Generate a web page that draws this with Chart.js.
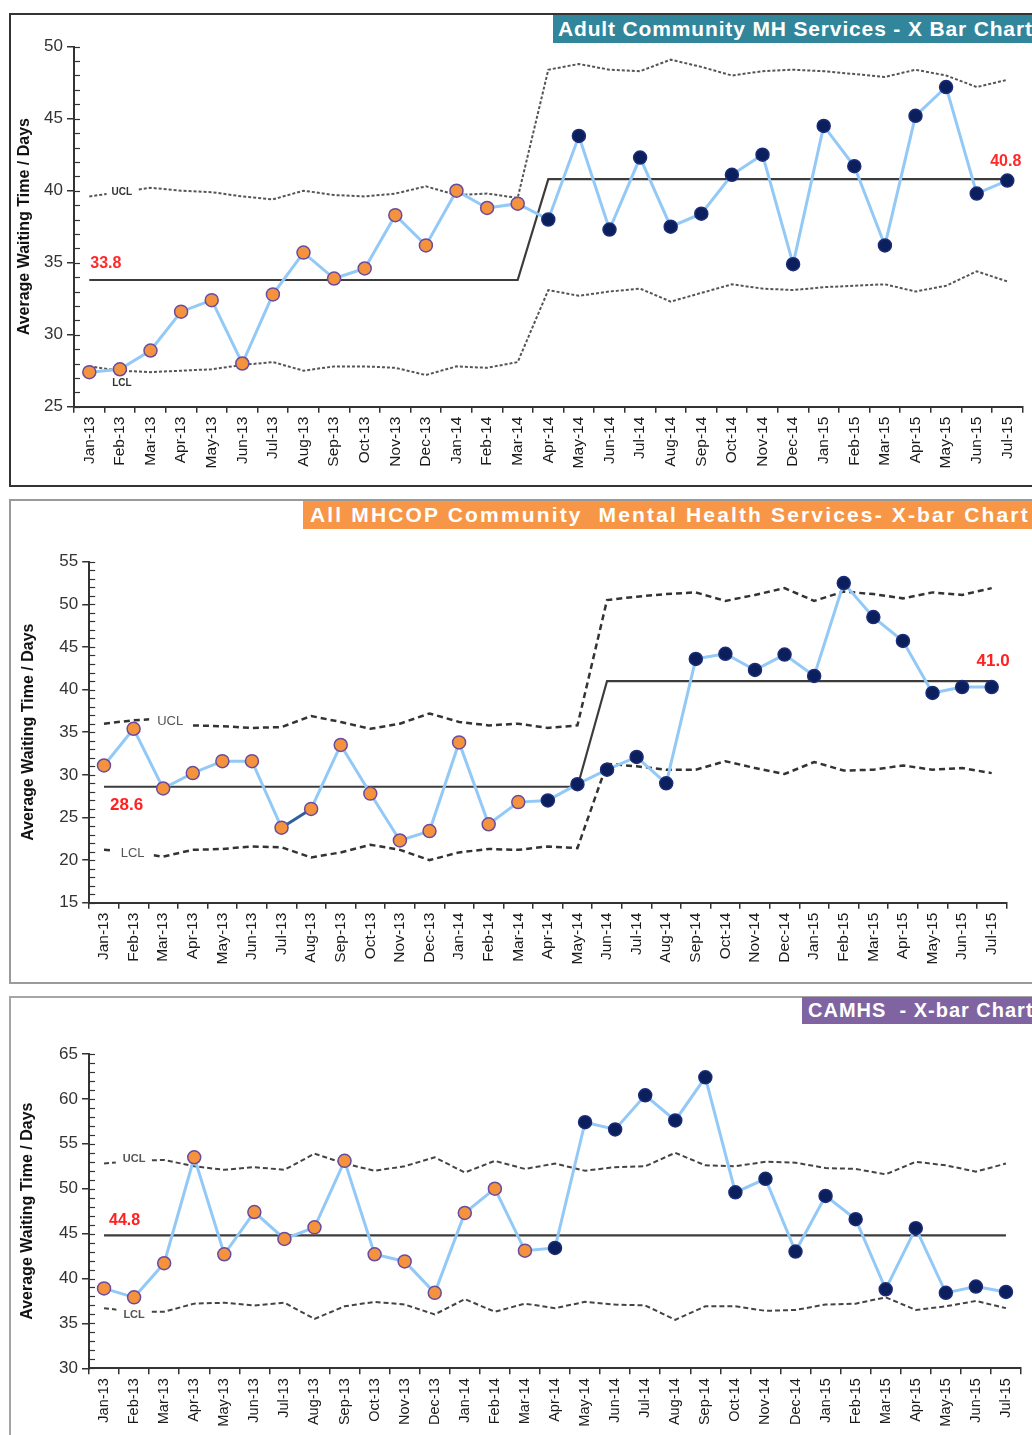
<!DOCTYPE html>
<html><head><meta charset="utf-8">
<script src="https://cdn.jsdelivr.net/npm/chart.js@4.4.1/dist/chart.umd.min.js"></script>
<style>
html,body{margin:0;padding:0;background:#fff;width:1032px;height:1435px;overflow:hidden;font-family:'Liberation Sans',Arial,sans-serif;}
.frame{position:absolute;box-sizing:border-box;}
.ttl{position:absolute;color:#fff;font-weight:bold;white-space:nowrap;overflow:hidden;box-sizing:border-box;font-family:'Liberation Sans',Arial,sans-serif;}
canvas{position:absolute;left:0;}
</style></head><body>
<div class="frame" style="left:9px;top:13px;width:1040px;height:474px;border:2px solid #333;"></div>
<div class="frame" style="left:9px;top:499px;width:1040px;height:485px;border:2px solid #9a9a9a;"></div>
<div class="frame" style="left:9px;top:996px;width:1040px;height:460px;border:2px solid #a5a5a5;"></div>

<canvas id="c1" width="1032" height="472" style="top:14px"></canvas>
<canvas id="c2" width="1032" height="482" style="top:500px"></canvas>
<canvas id="c3" width="1032" height="438" style="top:997px"></canvas>

<div class="ttl" style="left:553px;top:15px;width:479px;height:28px;line-height:28px;background:#31869b;font-size:21px;padding-left:5px;letter-spacing:0.85px;">Adult Community MH Services - X Bar Chart</div>
<div class="ttl" style="left:303px;top:501px;width:729px;height:28px;line-height:28px;background:#f79646;font-size:21px;padding-left:7px;letter-spacing:2.15px;">All MHCOP Community&nbsp; Mental Health Services- X-bar Chart</div>
<div class="ttl" style="left:802px;top:997px;width:230px;height:27px;line-height:27px;background:#8064a2;font-size:20px;padding-left:6px;letter-spacing:1.0px;">CAMHS&nbsp; - X-bar Chart</div>

<script>
// ---------- DATA ----------
const months = ['Jan-13','Feb-13','Mar-13','Apr-13','May-13','Jun-13','Jul-13','Aug-13','Sep-13','Oct-13','Nov-13','Dec-13',
  'Jan-14','Feb-14','Mar-14','Apr-14','May-14','Jun-14','Jul-14','Aug-14','Sep-14','Oct-14','Nov-14','Dec-14',
  'Jan-15','Feb-15','Mar-15','Apr-15','May-15','Jun-15','Jul-15'];

// Adult Community MH Services
const adultWait = [27.4,27.6,28.9,31.6,32.4,28.0,32.8,35.7,33.9,34.6,38.3,36.2,40.0,38.8,39.1,
  38.0,43.8,37.3,42.3,37.5,38.4,41.1,42.5,34.9,44.5,41.7,36.2,45.2,47.2,39.8,40.7];
const adultCentre = [33.8,33.8,33.8,33.8,33.8,33.8,33.8,33.8,33.8,33.8,33.8,33.8,33.8,33.8,33.8,
  40.8,40.8,40.8,40.8,40.8,40.8,40.8,40.8,40.8,40.8,40.8,40.8,40.8,40.8,40.8,40.8];
const adultUCL = [39.6,39.9,40.2,40.0,39.9,39.6,39.4,40.0,39.7,39.6,39.8,40.3,39.7,39.8,39.5,
  48.4,48.8,48.4,48.3,49.1,48.6,48.0,48.3,48.4,48.3,48.1,47.9,48.4,48.0,47.2,47.7];
const adultLCL = [27.8,27.5,27.4,27.5,27.6,27.9,28.1,27.5,27.8,27.8,27.7,27.2,27.8,27.7,28.1,
  33.1,32.7,33.0,33.2,32.3,32.9,33.5,33.2,33.1,33.3,33.4,33.5,33.0,33.4,34.4,33.7];
const adultTicks = [25,50];

// All MHCOP Community Mental Health Services
const mhcopWait = [31.1,35.4,28.4,30.2,31.6,31.6,23.8,26.0,33.5,27.8,22.3,23.4,33.8,24.2,26.8,
  27.0,28.9,30.6,32.1,29.0,43.6,44.2,42.3,44.1,41.6,52.5,48.5,45.7,39.6,40.3,40.3];
const mhcopCentre = [28.6,28.6,28.6,28.6,28.6,28.6,28.6,28.6,28.6,28.6,28.6,28.6,28.6,28.6,28.6,28.6,28.6,
  41.0,41.0,41.0,41.0,41.0,41.0,41.0,41.0,41.0,41.0,41.0,41.0,41.0,41.0];
const mhcopUCL = [36.0,36.4,36.6,35.8,35.7,35.5,35.6,36.9,36.2,35.4,36.0,37.2,36.2,35.8,36.0,35.5,35.8,
  50.5,50.9,51.2,51.4,50.4,51.1,51.9,50.4,51.5,51.2,50.7,51.4,51.1,51.9];
const mhcopLCL = [21.2,20.9,20.4,21.2,21.3,21.6,21.5,20.3,20.9,21.8,21.2,20.0,20.9,21.3,21.2,21.6,21.4,
  31.3,31.0,30.6,30.6,31.6,30.8,30.1,31.5,30.5,30.6,31.1,30.6,30.8,30.2];
const mhcopTicks = [15,55];

// CAMHS
const camhsWait = [38.9,37.9,41.7,53.5,42.7,47.4,44.4,45.7,53.1,42.7,41.9,38.4,47.3,50.0,43.1,
  43.4,57.4,56.6,60.4,57.6,62.4,49.6,51.1,43.0,49.2,46.6,38.8,45.6,38.4,39.1,38.5];
const camhsCentre = [44.8,44.8,44.8,44.8,44.8,44.8,44.8,44.8,44.8,44.8,44.8,44.8,44.8,44.8,44.8,44.8,
  44.8,44.8,44.8,44.8,44.8,44.8,44.8,44.8,44.8,44.8,44.8,44.8,44.8,44.8,44.8];
const camhsUCL = [52.8,53.1,53.2,52.5,52.1,52.4,52.1,53.9,52.8,52.0,52.5,53.5,51.8,53.1,52.2,
  52.8,52.0,52.4,52.5,54.0,52.6,52.5,53.0,52.9,52.3,52.2,51.6,53.0,52.6,51.9,52.8];
const camhsLCL = [36.7,36.3,36.3,37.2,37.3,37.0,37.3,35.5,36.9,37.4,37.1,36.0,37.7,36.3,37.2,
  36.7,37.4,37.1,37.0,35.4,36.9,36.9,36.4,36.5,37.1,37.2,37.9,36.5,36.9,37.5,36.7];
const camhsTicks = [30,65];

const yTitle = 'Average Waiting Time / Days';

// ---------- STYLE / BUILD ----------
const FAM = "'Liberation Sans', Arial, sans-serif";
const newPhase = months.indexOf('Apr-14');
const ORANGE = '#f5923e', ORANGE_B = '#6a4c9c', NAVY = '#0b1f5c', NAVY_B = '#1d2c78';

function makeAnnot(spec) {
  function draw(chart, l) {
    const ctx = chart.ctx;
    const xs = chart.scales.x, ys = chart.scales.y;
    const v = chart.data.datasets[l.ds].data[l.idx];
    const x = xs.getPixelForValue(l.idx) + (l.dx || 0);
    const y = ys.getPixelForValue(v) + (l.dy || 0);
    const txt = l.text || v.toFixed(1);
    ctx.save();
    ctx.font = l.font + ' ' + FAM;
    ctx.textAlign = l.align || 'center';
    ctx.textBaseline = 'middle';
    if (l.gap) {
      const w = ctx.measureText(txt).width;
      ctx.fillStyle = '#fff';
      ctx.fillRect(x - w / 2 - l.gap[0], y - 7, w + l.gap[0] + l.gap[1], 14);
    }
    ctx.fillStyle = l.color;
    ctx.fillText(txt, x, y);
    ctx.restore();
  }
  return {
    id: 'annot',
    afterDatasetDraw(chart, args) {
      spec.labels.filter(l => l.ds === args.index && l.ds >= 2).forEach(l => draw(chart, l));
    },
    afterDatasetsDraw(chart) {
      const ctx = chart.ctx, ys = chart.scales.y, ax = chart.chartArea.left;
      ctx.save();
      ctx.strokeStyle = '#333'; ctx.lineWidth = 1.2;
      for (let v = ys.min; v <= ys.max; v++) {
        const y = Math.round(ys.getPixelForValue(v)) + 0.5;
        ctx.beginPath(); ctx.moveTo(ax, y); ctx.lineTo(ax + 6, y); ctx.stroke();
      }
      ctx.restore();
      spec.labels.filter(l => l.ds === 1).forEach(l => draw(chart, l));
    }
  };
}

function makeChart(id, c) {
  return new Chart(document.getElementById(id), {
    type: 'line',
    data: {
      labels: months,
      datasets: [
        { data: c.values, borderColor: '#93c9f6', borderWidth: 3, tension: 0,
          pointRadius: 6.5, pointHoverRadius: 6.5, pointBorderWidth: 1.5,
          pointBackgroundColor: c.values.map((_, i) => i < newPhase ? ORANGE : NAVY),
          pointBorderColor: c.values.map((_, i) => i < newPhase ? ORANGE_B : NAVY_B),
          segment: c.segment || {} },
        { data: c.centre, borderColor: '#3c3c3c', borderWidth: 2.2, pointRadius: 0, tension: 0 },
        { data: c.ucl, borderColor: c.lim.color, borderWidth: c.lim.width, borderDash: c.lim.dash, pointRadius: 0, tension: 0 },
        { data: c.lcl, borderColor: c.lim.color, borderWidth: c.lim.width, borderDash: c.lim.dash, pointRadius: 0, tension: 0 }
      ]
    },
    options: {
      responsive: false, animation: false, devicePixelRatio: 1,
      layout: { padding: c.pad },
      plugins: { legend: { display: false }, tooltip: { enabled: false } },
      events: [],
      scales: {
        x: {
          type: 'category', offset: true,
          grid: { offset: true, drawOnChartArea: false, tickLength: 6, color: '#333', lineWidth: 1.5 },
          border: { color: '#333', width: 2 },
          ticks: { minRotation: 90, maxRotation: 90, autoSkip: false, padding: 4, color: '#1a1a1a',
                   font: { family: FAM, size: c.xFont } },
          afterFit(s) { s.height = c.xH; }
        },
        y: {
          min: c.ticks[0], max: c.ticks[1],
          grid: { drawOnChartArea: false, tickLength: 7, color: '#333', lineWidth: 1.5 },
          border: { color: '#333', width: 2 },
          ticks: { stepSize: 5, padding: 4, color: '#333', font: { family: FAM, size: 17 } },
          title: { display: true, text: yTitle, color: '#111', padding: { top: c.titlePad, bottom: 0 },
                   font: { family: FAM, size: 16, weight: 'bold' } },
          afterFit(s) { s.width = c.yW; }
        }
      }
    },
    plugins: [makeAnnot({ labels: c.labels })]
  });
}

makeChart('c1', {
  values: adultWait, centre: adultCentre, ucl: adultUCL, lcl: adultLCL, ticks: adultTicks,
  pad: { left: 10, right: 9.4, top: 32.7, bottom: 9.3 }, yW: 64, xH: 70, xFont: 15.5, titlePad: 5,
  lim: { color: '#555', width: 2, dash: [3, 2] },
  labels: [
    { ds: 1, idx: 0, dx: 1, dy: -16, align: 'left', font: 'bold 16px', color: '#ff2a2a' },
    { ds: 1, idx: 30, dx: 14, dy: -18, align: 'right', font: 'bold 16px', color: '#ff2a2a' },
    { ds: 2, idx: 1, dx: 2, dy: 0, text: 'UCL', font: 'bold 10px', color: '#333', gap: [5, 5] },
    { ds: 3, idx: 1, dx: 2, dy: 13, text: 'LCL', font: 'bold 10px', color: '#333' }
  ]
});

makeChart('c2', {
  values: mhcopWait, centre: mhcopCentre, ucl: mhcopUCL, lcl: mhcopLCL, ticks: mhcopTicks,
  pad: { left: 10, right: 25.5, top: 61.7, bottom: 9.3 }, yW: 79.2, xH: 70, xFont: 15.5, titlePad: 9,
  lim: { color: '#333', width: 2.5, dash: [6, 4] },
  segment: { borderColor: ctx => ctx.p0DataIndex === months.indexOf('Jul-13') ? '#2f5f9e' : undefined },
  labels: [
    { ds: 1, idx: 0, dx: 6, dy: 19, align: 'left', font: 'bold 17px', color: '#ff2020' },
    { ds: 1, idx: 30, dx: 18, dy: -20, align: 'right', font: 'bold 17px', color: '#ff2020' },
    { ds: 2, idx: 2, dx: 7, dy: 3, text: 'UCL', font: '13px', color: '#555', gap: [8, 7] },
    { ds: 3, idx: 1, dx: -1, dy: 1, text: 'LCL', font: '13px', color: '#555', gap: [7, 9] }
  ]
});

makeChart('c3', {
  values: camhsWait, centre: camhsCentre, ucl: camhsUCL, lcl: camhsLCL, ticks: camhsTicks,
  pad: { left: 10, right: 11, top: 57, bottom: 4.7 }, yW: 79, xH: 62, xFont: 14.5, titlePad: 8,
  lim: { color: '#444', width: 2, dash: [5, 3] },
  labels: [
    { ds: 1, idx: 0, dx: 5, dy: -15, align: 'left', font: 'bold 16px', color: '#ff2020' },
    { ds: 2, idx: 1, dx: 0, dy: -2, text: 'UCL', font: 'bold 11px', color: '#555', gap: [7, 5] },
    { ds: 3, idx: 1, dx: 0, dy: 3, text: 'LCL', font: 'bold 11px', color: '#555', gap: [7, 5] }
  ]
});
</script>
</body></html>
